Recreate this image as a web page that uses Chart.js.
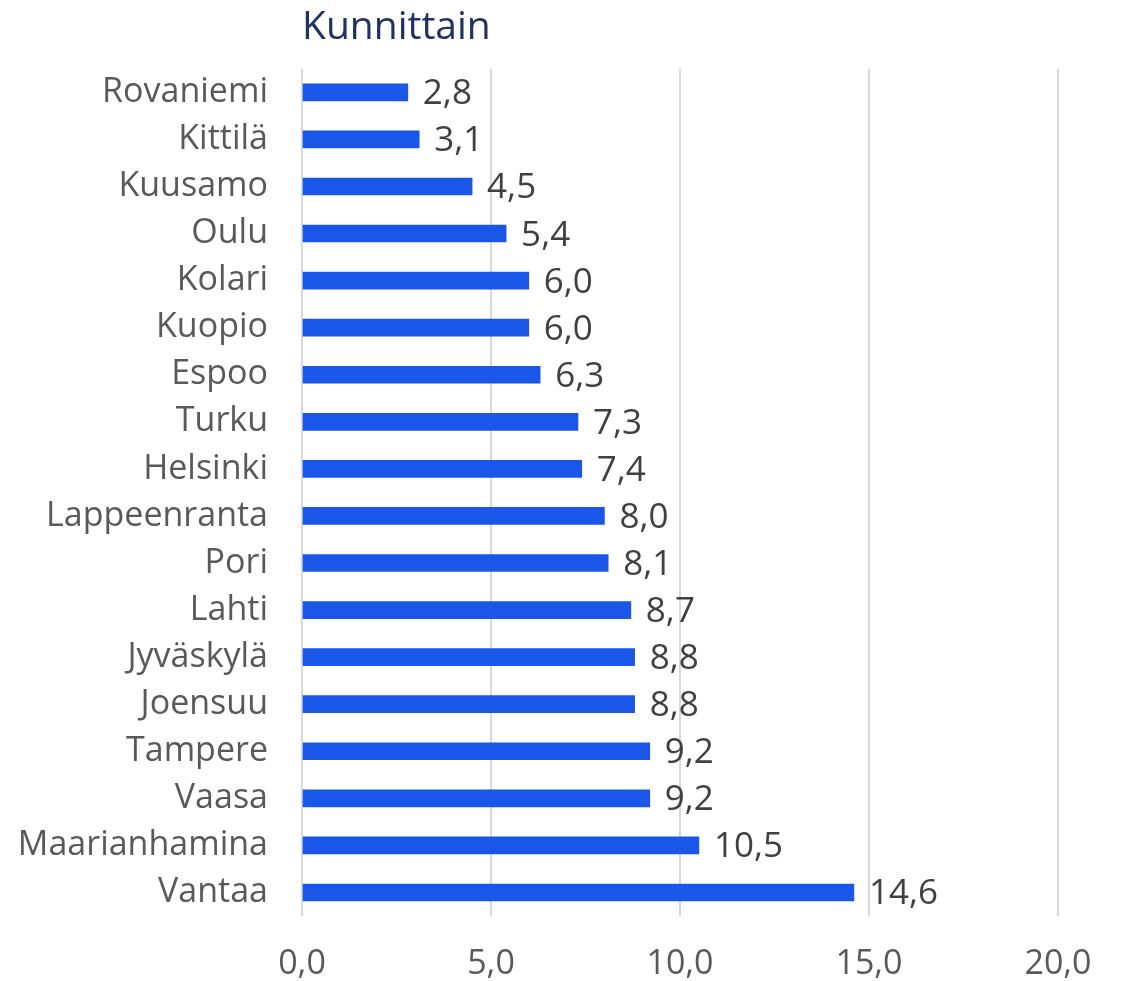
<!DOCTYPE html>
<html>
<head>
<meta charset="utf-8">
<script src="https://cdn.jsdelivr.net/npm/chart.js@4"></script>
<style>
  html, body { margin: 0; padding: 0; background: #fff; }
  #wrap { width: 1125px; height: 981px; }
</style>
</head>
<body>
<div id="wrap"><canvas id="myChart" width="1125" height="981"></canvas></div>
<script>
// Kunnittain - horizontal bars

const cities = [
  "Rovaniemi", "Kittilä", "Kuusamo", "Oulu", "Kolari", "Kuopio", "Espoo",
  "Turku", "Helsinki", "Lappeenranta", "Pori", "Lahti", "Jyväskylä",
  "Joensuu", "Tampere", "Vaasa", "Maarianhamina", "Vantaa",
];
const values = [2.8, 3.1, 4.5, 5.4, 6.0, 6.0, 6.3, 7.3, 7.4, 8.0, 8.1, 8.7, 8.8, 8.8, 9.2, 9.2, 10.5, 14.6];
const xTicks = [0, 5, 10, 15, 20];

const fmt = (v) => v.toFixed(1).replace(".", ",");
const font = "'Open Sans', 'Liberation Sans', sans-serif";

// draws the value next to each bar
const barLabels = {
  id: "barLabels",
  afterDatasetsDraw(chart) {
    const ctx = chart.ctx;
    const meta = chart.getDatasetMeta(0);
    ctx.save();
    ctx.font = "35px " + font;
    ctx.fillStyle = "#404040";
    ctx.textAlign = "left";
    ctx.textBaseline = "middle";
    meta.data.forEach((bar, i) => {
      ctx.fillText(fmt(values[i]), bar.x + 15, bar.y + 2);
    });
    ctx.restore();
  },
};

new Chart(document.getElementById("myChart"), {
  type: "bar",
  data: {
    labels: cities,
    datasets: [
      {
        data: values,
        backgroundColor: "#1a56e8",
        barThickness: 17,
      },
    ],
  },
  options: {
    indexAxis: "y",
    responsive: false,
    animation: false,
    layout: { padding: { left: 0, right: 67, top: 0, bottom: 0 } },
    plugins: {
      legend: { display: false },
      tooltip: { enabled: false },
      title: {
        display: true,
        text: "Kunnittain",
        align: "start",
        fullSize: false,
        color: "#1f3262",
        font: { family: font, size: 39, weight: "normal" },
        padding: { top: 4, bottom: 18 },
      },
    },
    scales: {
      x: {
        min: 0,
        max: 20,
        afterBuildTicks: (scale) => {
          scale.ticks = xTicks.map((v) => ({ value: v }));
        },
        afterFit: (scale) => {
          scale.height = 65;
        },
        grid: { color: "#d9d9d9", lineWidth: 2, drawTicks: false },
        border: { display: false },
        ticks: {
          color: "#595959",
          font: { family: font, size: 34 },
          padding: 28,
          callback: (v) => fmt(v),
        },
      },
      y: {
        afterFit: (scale) => {
          scale.width = 302;
        },
        grid: { display: false },
        border: { display: false },
        ticks: {
          color: "#595959",
          font: { family: font, size: 34 },
          padding: 26,
        },
      },
    },
  },
  plugins: [barLabels],
});
</script>
</body>
</html>
